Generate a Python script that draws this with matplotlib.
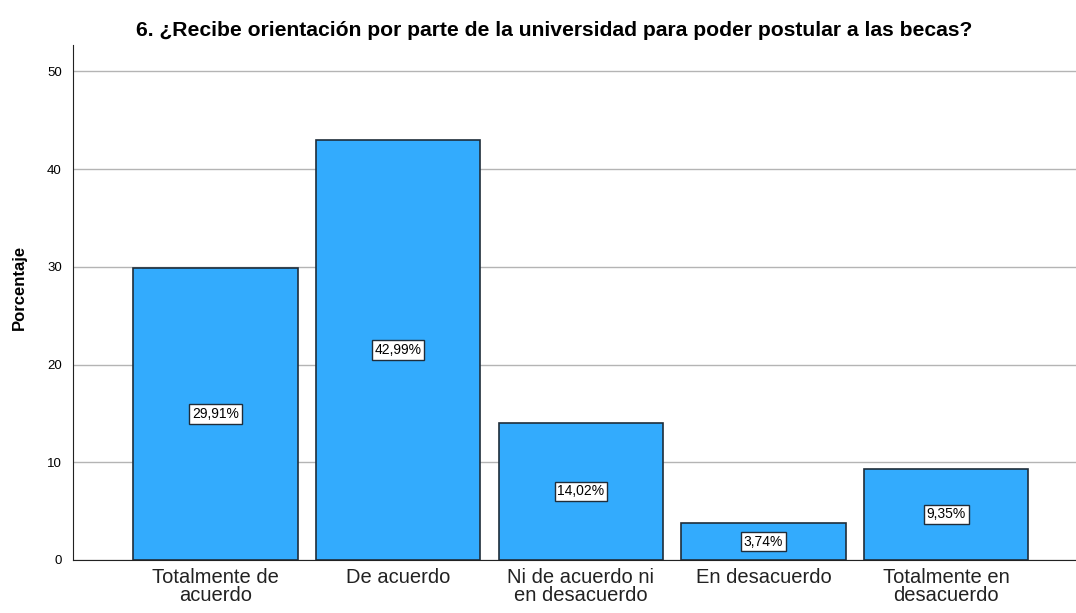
import matplotlib.pyplot as plt
import numpy as np

plt.rcParams['font.family'] = ['Liberation Sans', 'DejaVu Sans']

categorias = ["Totalmente de\nacuerdo", "De acuerdo", "Ni de acuerdo ni\nen desacuerdo",
              "En desacuerdo", "Totalmente en\ndesacuerdo"]
porcentajes = [29.91, 42.99, 14.02, 3.74, 9.35]
yticks = [0, 10, 20, 30, 40, 50]

fig = plt.figure(figsize=(10.76, 6.13), dpi=100)
ax = fig.add_axes([0.0678, 0.0865, 0.9322, 0.84])

x = np.arange(len(categorias))
bars = ax.bar(x, porcentajes, width=0.9, color="#33abfd", edgecolor="#1f2d3a", linewidth=1.2, zorder=2)

for xi, v in zip(x, porcentajes):
    ax.text(xi, v / 2, f"{v:.2f}%".replace(".", ","), ha="center", va="center", fontsize=10,
            bbox=dict(boxstyle="square,pad=0.2", fc="white", ec="#1f2d3a", lw=1), zorder=3)

ax.set_xlim(-0.78, 4.71)
ax.set_ylim(0, 52.7)
ax.set_yticks(yticks)
ax.set_xticks(x)
ax.set_xticklabels(categorias, fontsize=14.5, color="#222222", linespacing=0.9)
ax.tick_params(axis="y", labelsize=9.5, length=0, pad=8)
ax.tick_params(axis="x", length=0, pad=6)
ax.yaxis.grid(True, color="#b4b4b4", linewidth=1, zorder=0)
ax.set_axisbelow(True)
for s in ["top", "right"]:
    ax.spines[s].set_visible(False)
ax.spines["left"].set_color("#222222")
ax.spines["bottom"].set_color("#222222")

ax.set_ylabel("Porcentaje", fontsize=12, fontweight="bold")
ax.yaxis.set_label_coords(-0.046, 0.53)
fig.text(554 / 1076, 1 - 30 / 613, "6. ¿Recibe orientación por parte de la universidad para poder postular a las becas?",
         ha="center", va="center", fontsize=15.2, fontweight="bold")

plt.savefig("out.png", dpi=100)
